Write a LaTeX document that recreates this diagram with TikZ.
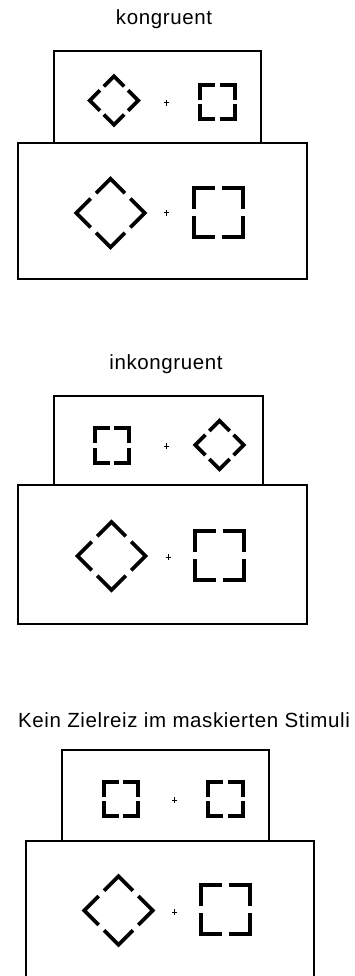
\documentclass[tikz,border=0pt]{standalone}
\usepackage{fontspec}
\setmainfont{Liberation Sans}
\tikzset{
  frame/.style={draw=black, line width=1.2pt},
  shp/.style={draw=black, line width=3.8pt, line join=miter, line cap=butt},
  fix/.style={draw=black, line width=1pt},
  ttl/.style={inner sep=0pt, font=\fontsize{20.5}{24}\selectfont\addfontfeature{LetterSpace=3}}
}
% gapped square: cx, cy, half side (path)
\newcommand\gsq[3]{%
  \pgfmathsetmacro\gh{0.14*#3}%
  \draw[shp] ({#1-\gh},{#2-#3}) -- ({#1-#3},{#2-#3}) -- ({#1-#3},{#2-\gh});
  \draw[shp] ({#1+\gh},{#2-#3}) -- ({#1+#3},{#2-#3}) -- ({#1+#3},{#2-\gh});
  \draw[shp] ({#1+\gh},{#2+#3}) -- ({#1+#3},{#2+#3}) -- ({#1+#3},{#2+\gh});
  \draw[shp] ({#1-\gh},{#2+#3}) -- ({#1-#3},{#2+#3}) -- ({#1-#3},{#2+\gh});
}
% gapped diamond: cx, cy, half diagonal (path)
\newcommand\gdia[3]{%
  \pgfmathsetmacro\dd{0.08*#3}%
  \pgfmathsetmacro\hh{0.5*#3}%
  \draw[shp] ({#1-\hh+\dd},{#2-\hh-\dd}) -- ({#1},{#2-#3}) -- ({#1+\hh-\dd},{#2-\hh-\dd});
  \draw[shp] ({#1+\hh+\dd},{#2-\hh+\dd}) -- ({#1+#3},{#2}) -- ({#1+\hh+\dd},{#2+\hh-\dd});
  \draw[shp] ({#1+\hh-\dd},{#2+\hh+\dd}) -- ({#1},{#2+#3}) -- ({#1-\hh+\dd},{#2+\hh+\dd});
  \draw[shp] ({#1-\hh-\dd},{#2+\hh-\dd}) -- ({#1-#3},{#2}) -- ({#1-\hh-\dd},{#2-\hh+\dd});
}
\newcommand\fixcross[2]{%
  \draw[fix] ({#1-2.5},{#2}) -- ({#1+2.5},{#2});
  \draw[fix] ({#1},{#2-3}) -- ({#1},{#2+3});
}
\begin{document}
\begin{tikzpicture}[x=1pt,y=-1pt]
\useasboundingbox[fill=white] (0,0) rectangle (354,976);

% Panel 1
\node[ttl] (t1) at (164,19) {kongruent};
\draw[frame] (54,51) rectangle (261,143);
\draw[frame] (18,143) rectangle (307,279);
\gdia{114}{100.5}{24.3}
\fixcross{166}{103}
\gsq{217.5}{102}{17.3}
\gdia{110.5}{213}{34.2}
\fixcross{166}{213}
\gsq{218.5}{212.5}{24.8}

% Panel 2
\node[ttl] (t2) at (166,364) {inkongruent};
\draw[frame] (54,396) rectangle (263,485);
\draw[frame] (18,485) rectangle (307,624);
\gsq{112}{445.5}{17.3}
\fixcross{166}{446}
\gdia{219.5}{445}{24.3}
\gdia{111.5}{556}{34}
\fixcross{168}{557}
\gsq{219.5}{555.5}{24.8}

% Panel 3
\node[ttl] (t3) at (184,720) {Kein Zielreiz im maskierten Stimuli};
\draw[frame] (62,750) rectangle (269,841);
\draw[frame] (26,980) -- (26,841) -- (314,841) -- (314,980);
\gsq{121}{799}{17.3}
\fixcross{174}{800}
\gsq{225.5}{799}{17.3}
\gdia{118.5}{910.5}{34.2}
\fixcross{174}{912}
\gsq{225.5}{909.5}{24.8}
\end{tikzpicture}
\end{document}
